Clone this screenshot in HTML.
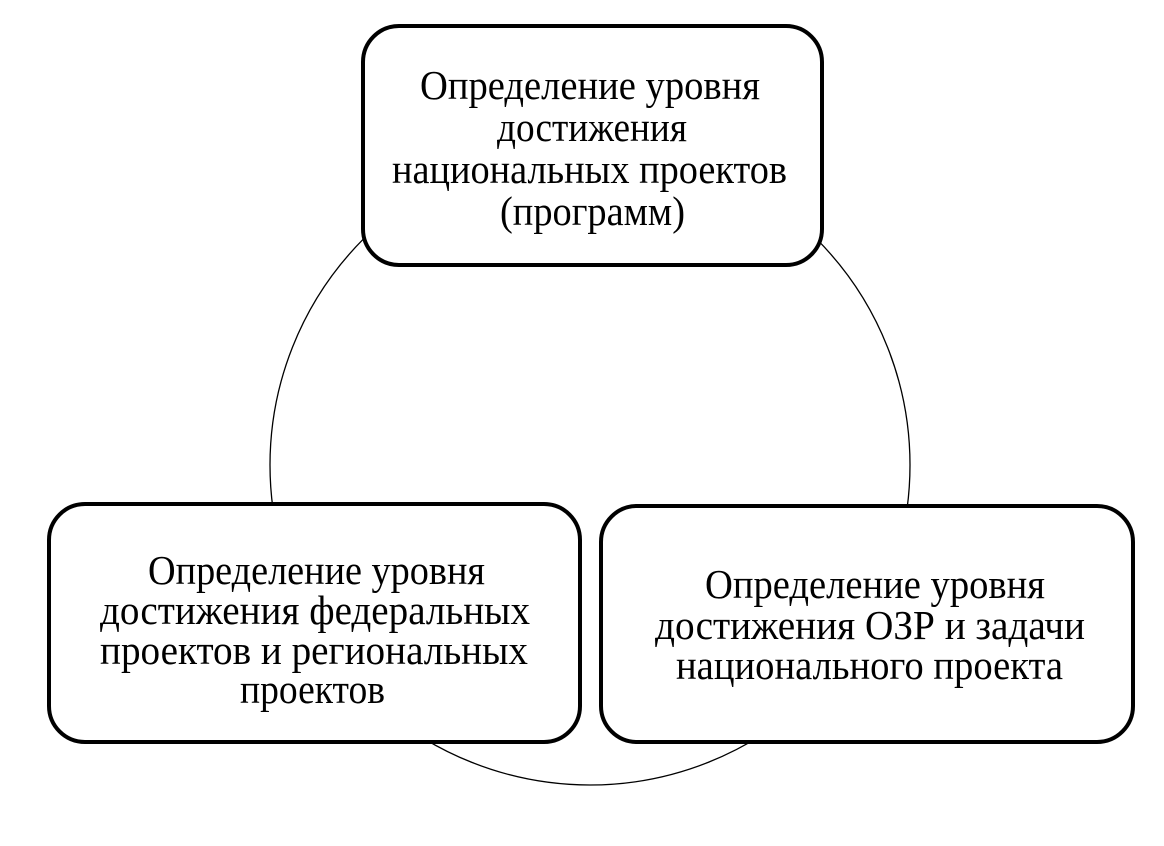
<!DOCTYPE html>
<html><head><meta charset="utf-8"><style>html,body{margin:0;padding:0;background:#fff}svg{display:block}</style></head>
<body>
<svg width="1164" height="846" viewBox="0 0 1164 846" xmlns="http://www.w3.org/2000/svg">
<circle cx="590" cy="465" r="320" fill="none" stroke="#000" stroke-width="1.3"/>
<rect x="363" y="26" width="459" height="239" rx="36" fill="#fff" stroke="#000" stroke-width="4"/>
<rect x="49" y="504" width="531" height="238" rx="36" fill="#fff" stroke="#000" stroke-width="4"/>
<rect x="601" y="506" width="532" height="236" rx="36" fill="#fff" stroke="#000" stroke-width="4"/>
<g font-family="Liberation Serif, serif" font-size="41" fill="#000">
<text x="420" y="99" textLength="340" lengthAdjust="spacingAndGlyphs">Определение уровня</text>
<text x="497" y="141" textLength="190" lengthAdjust="spacingAndGlyphs">достижения</text>
<text x="392" y="183" textLength="395" lengthAdjust="spacingAndGlyphs">национальных проектов</text>
<text x="500" y="225" textLength="185" lengthAdjust="spacingAndGlyphs">(программ)</text>
<text x="148" y="584" textLength="337" lengthAdjust="spacingAndGlyphs">Определение уровня</text>
<text x="100" y="624" textLength="430" lengthAdjust="spacingAndGlyphs">достижения федеральных</text>
<text x="100" y="664" textLength="428" lengthAdjust="spacingAndGlyphs">проектов и региональных</text>
<text x="240" y="703" textLength="145" lengthAdjust="spacingAndGlyphs">проектов</text>
<text x="705" y="598" textLength="340" lengthAdjust="spacingAndGlyphs">Определение уровня</text>
<text x="655" y="639" textLength="430" lengthAdjust="spacingAndGlyphs">достижения ОЗР и задачи</text>
<text x="676" y="679" textLength="387" lengthAdjust="spacingAndGlyphs">национального проекта</text>
</g>
</svg>
</body></html>
